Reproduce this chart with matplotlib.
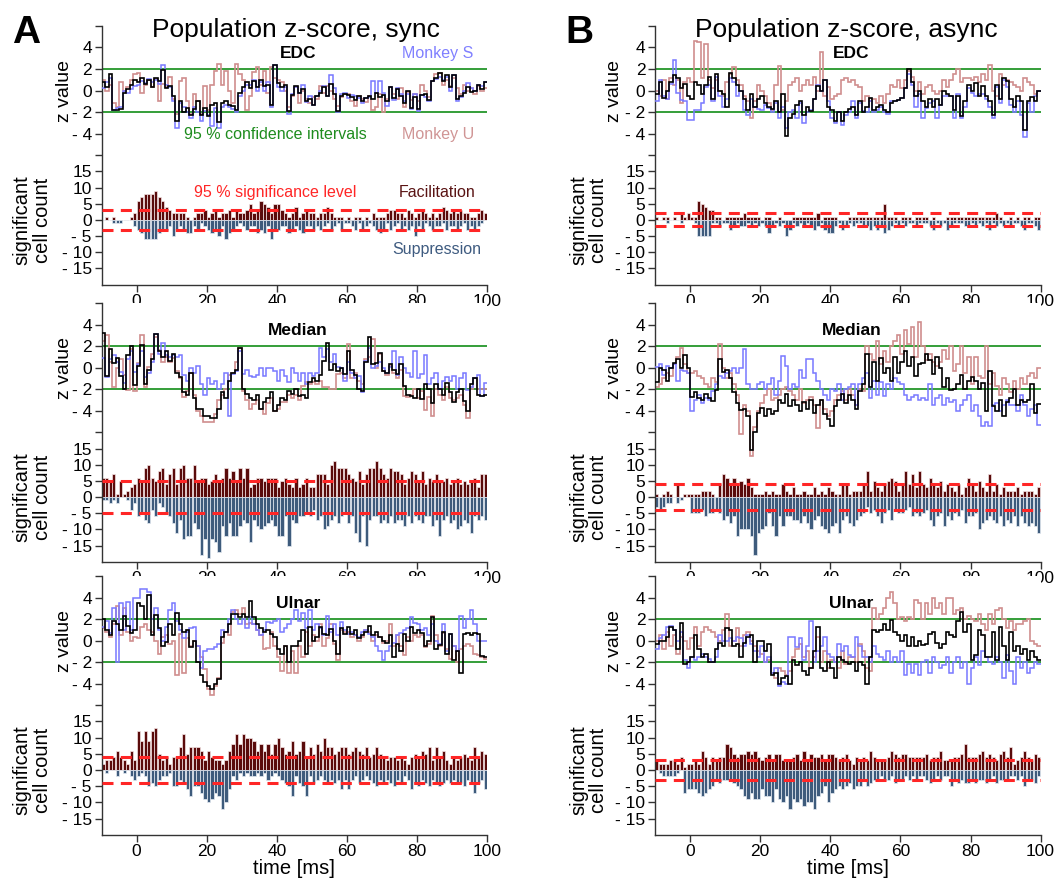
import numpy as np
import matplotlib
matplotlib.use("Agg")
import matplotlib.pyplot as plt
from matplotlib.transforms import blended_transform_factory

plt.rcParams['font.family'] = ['Liberation Sans', 'DejaVu Sans']

# 1 ms bins from -10 to 100 ms
edges = np.arange(-10, 101)

# ---------- sync, EDC ----------
sync_edc_s = [0.2, 0.8, 1.2, -1.8, -1.6, -1.5, 0.0, -0.2, 0.1, 0.4,
              0.5, 0.9, 0.7, 1.1, 0.8, 1.0, 0.6, 2.4, 0.5, 0.3,
              -1.0, -3.5, -1.2, -1.5, -2.0, -2.5, -1.5, -2.0, -2.8, -1.9,
              -2.3, -3.3, -1.6, -3.5, -1.5, -1.3, -1.5, -1.7, -2.0, -0.5,
              0.0, 0.5, 0.5, 1.0, 0.0, 0.8, 0.0, 0.8, -1.5, 2.4,
              0.3, 0.0, 0.3, -2.2, -0.3, 0.3, -0.2, 0.5, -1.1, -0.5,
              -1.3, -0.5, 0.0, 0.4, -0.5, 1.4, 0.2, -2.0, -0.3, -0.2,
              -0.7, -0.4, -0.5, -0.7, -1.2, -0.7, -0.6, 0.9, -0.2, 0.9,
              -0.2, -1.4, 0.3, -0.9, 0.2, -0.3, -1.0, -0.3, -1.7, -0.3,
              -1.9, -0.4, -0.6, -1.0, 0.9, 1.1, 1.3, 1.0, 1.3, 0.0,
              1.4, -1.0, -0.6, 0.0, 0.7, 0.2, 0.0, 0.5, 0.4, 0.8]
sync_edc_u = [1.0, 0.0, 0.5, -1.2, -1.5, 0.8, 0.0, 0.3, 1.0, 1.5,
              1.6, -0.2, 0.5, 1.0, 0.3, 1.1, -1.0, 0.6, 0.3, 1.3,
              -0.8, -2.2, 0.9, 1.2, -1.0, -2.2, -0.3, -1.0, -2.2, 0.4,
              -1.8, 0.5, 1.8, 2.5, 0.5, 1.8, 0.0, -1.2, 2.5, 1.5,
              1.0, -1.8, -0.5, 1.7, 2.2, 0.5, 1.8, -0.2, 2.2, 1.2,
              1.0, 0.8, 0.0, -1.5, -0.5, 0.3, -1.2, 0.0, -0.8, -1.2,
              -0.6, -0.8, 0.4, -0.2, 0.4, 0.0, -0.8, -1.4, -0.6, -0.3,
              -0.3, -1.0, -1.4, -0.5, -0.8, -1.1, -0.5, -1.8, -1.5, -0.3,
              -2.0, -0.8, 0.3, -0.3, -0.8, 0.2, -1.5, -0.1, -0.9, -0.3,
              -1.0, 0.5, 0.0, -0.6, 0.9, 1.5, 1.6, 0.5, 1.0, 0.4,
              1.2, 0.2, -0.3, 0.5, 0.0, 0.2, -0.3, 0.4, 0.0, 0.2]
sync_edc_all = [0.8, 0.3, 1.5, -1.8, -1.8, -1.7, -0.2, 0.1, 0.5, 1.0,
                0.8, 1.2, 0.6, 1.0, 0.3, 1.2, 0.9, 1.9, 0.2, 0.4,
                -0.5, -2.8, -1.0, -2.0, -1.6, -2.3, -1.7, -1.0, -2.3, -1.6,
                -2.4, -1.3, -1.2, -2.9, -1.2, -1.0, -1.3, -1.4, -1.8, -0.2,
                0.3, 0.8, 0.2, 0.9, 0.3, 1.0, 0.4, 0.5, -1.3, 2.4,
                0.7, 0.3, 0.5, -1.9, -0.4, 0.4, -0.2, 0.1, -1.0, -0.8,
                -1.3, -0.5, -0.2, 0.3, -0.5, 0.6, -0.3, -1.9, -0.5, -0.3,
                -0.4, -0.6, -0.9, -0.5, -1.0, -0.7, -0.5, -0.8, -0.2, -0.6,
                -0.4, -1.0, 0.3, -0.7, 0.1, -0.5, -1.2, 0.0, -1.6, -0.6,
                -1.7, -0.4, -0.3, -0.9, 0.9, 1.2, 1.6, 0.9, 1.4, 0.3,
                1.4, -0.8, -0.5, -0.2, 0.3, -0.1, 0.0, 0.5, 0.1, 0.8]
sync_edc_fac = [0, 1, 0, 1, 0, 0, 0, 0, 1, 2,
                6, 7, 8, 8, 8, 9, 7, 6, 4, 3,
                2, 2, 2, 2, 1, 0, 1, 2, 2, 3,
                1, 2, 3, 1, 2, 2, 3, 1, 3, 2,
                2, 3, 5, 2, 3, 6, 5, 4, 2, 5,
                5, 3, 2, 1, 2, 4, 1, 2, 3, 2,
                2, 1, 2, 2, 4, 2, 1, 1, 1, 0,
                1, 0, 1, 1, 0, 1, 0, 2, 1, 1,
                1, 2, 3, 3, 2, 2, 1, 3, 2, 1,
                2, 3, 2, 1, 2, 1, 2, 4, 3, 2,
                3, 2, 3, 2, 2, 1, 1, 2, 3, 2]
sync_edc_sup = [0, 0, 0, 1, 1, 1, 0, 0, 0, 2,
                3, 4, 6, 6, 6, 6, 4, 3, 3, 2,
                5, 3, 2, 3, 4, 4, 2, 3, 1, 2,
                3, 4, 3, 5, 2, 6, 4, 3, 2, 1,
                2, 3, 2, 2, 4, 3, 4, 2, 6, 3,
                3, 2, 2, 4, 3, 2, 3, 4, 2, 2,
                3, 2, 3, 2, 1, 3, 2, 1, 3, 1,
                1, 2, 3, 1, 3, 2, 1, 2, 3, 4,
                3, 1, 3, 2, 1, 3, 2, 3, 2, 5,
                2, 3, 1, 2, 3, 2, 2, 1, 3, 2,
                2, 3, 2, 1, 3, 2, 3, 2, 1, 0]

# ---------- sync, Median ----------
sync_med_s = [0.9, -0.9, 0.8, 1.2, 0.5, -0.4, -1.4, 0.8, 1.5, -0.4,
              0.3, 1.5, -0.9, -0.5, 0.5, 3.1, 1.3, 2.3, 1.2, 1.0,
              1.2, 1.0, 1.2, -0.7, -1.2, 0.0, -0.5, 0.2, -1.5, -2.5,
              -1.0, -1.5, -1.2, -2.0, -1.5, -0.5, -4.5, -0.6, -0.3, 1.5,
              -0.6, -0.2, -0.8, -0.9, -0.7, 0.0, -0.8, 0.0, 0.0, -0.3,
              -1.2, -0.2, -0.8, -1.3, 0.0, -0.5, -1.2, -0.5, -1.5, -0.5,
              -0.8, -0.5, 1.8, 1.0, 1.7, 0.5, 1.3, 0.1, 0.0, -1.2,
              0.5, -0.5, -1.0, -0.8, -2.3, 0.6, 1.8, 0.0, 0.2, 0.5,
              0.0, -0.5, 0.1, 1.5, -0.7, 1.0, 0.0, -0.5, -0.9, 1.5,
              -1.0, -0.6, 1.2, -1.5, -1.0, -0.5, -2.0, -1.2, -0.9, -1.2,
              -0.8, -2.0, -1.0, -0.5, -2.1, -1.8, -1.0, -0.7, -2.6, -1.4]
sync_med_u = [2.5, 3.0, 0.5, -1.8, 0.0, 0.8, -0.7, -2.1, 1.7, -2.2,
              0.4, 3.0, -1.8, 0.1, 1.3, 2.8, 1.6, 0.5, 1.0, 0.5,
              0.9, -0.3, -1.0, -2.7, -2.2, -0.5, -2.5, -4.0, -4.5, -5.0,
              -5.0, -5.0, -4.3, -3.0, -2.5, -2.0, -0.7, -0.5, 0.5, 1.8,
              -2.2, -3.0, -3.8, -3.4, -3.0, -3.8, -4.3, -3.3, -2.8, -4.0,
              -3.8, -3.2, -3.2, -2.5, -2.8, -2.5, -3.0, -1.7, -1.3, -1.5,
              -1.3, -1.5, -1.2, -1.8, -1.8, -2.0, -2.0, -0.6, -0.5, -1.0,
              2.2, -1.0, -0.5, -1.2, -1.5, 0.8, 1.0, 2.7, 0.0, 1.3,
              -0.3, -0.7, 0.2, -0.5, -1.0, -0.2, -2.6, -2.7, -2.5, -2.0,
              -2.8, -2.2, -3.9, -2.7, -4.5, -2.0, -2.5, -3.0, -1.8, -2.8,
              -3.0, -2.8, -2.5, -3.5, -4.7, -2.0, -1.0, -2.0, -2.0, -2.0]
sync_med_all = [3.2, -0.8, 1.7, 0.4, 0.9, -0.8, -2.0, 1.2, 2.0, -1.6,
                0.2, 2.1, -1.5, -0.2, 0.8, 3.1, 1.5, 1.0, 1.5, 0.6,
                1.3, -0.5, -0.9, -2.3, -2.5, -0.5, -2.8, -3.8, -3.8, -4.5,
                -4.5, -4.7, -4.7, -3.8, -2.3, -2.8, -1.2, -0.5, -0.2, 1.8,
                -2.0, -2.4, -2.8, -3.0, -2.5, -3.8, -3.2, -2.8, -2.3, -4.0,
                -3.5, -2.8, -3.0, -2.2, -2.4, -2.0, -2.6, -2.5, -2.8, -1.3,
                -1.0, -1.2, -0.7, 0.6, 2.3, -0.2, 0.3, -0.3, 0.0, -0.6,
                1.5, -0.2, -0.7, -2.0, -2.2, 0.5, 2.8, 0.3, 0.4, 1.4,
                -0.3, -0.5, 0.3, -0.2, -0.6, 0.3, -1.7, -2.5, -2.6, -2.8,
                -2.0, -2.9, -1.5, -2.0, -3.3, -1.5, -2.0, -2.5, -1.4, -2.3,
                -3.2, -2.3, -2.0, -3.1, -4.0, -1.5, -1.0, -2.5, -2.6, -2.5]
sync_med_fac = [6, 6, 5, 7, 1, 5, 1, 2, 3, 4,
                6, 5, 9, 10, 6, 5, 8, 9, 4, 7,
                9, 4, 9, 10, 6, 6, 10, 5, 6, 6,
                4, 5, 7, 5, 6, 9, 6, 8, 5, 9,
                6, 9, 3, 4, 6, 6, 5, 6, 6, 6,
                3, 5, 6, 4, 3, 6, 3, 4, 6, 3,
                3, 7, 7, 7, 4, 10, 11, 9, 9, 9,
                7, 6, 5, 8, 4, 7, 9, 9, 11, 9,
                7, 6, 9, 8, 8, 7, 4, 6, 8, 7,
                5, 8, 4, 6, 5, 7, 5, 5, 6, 4,
                5, 6, 4, 5, 4, 5, 6, 3, 7, 7]
sync_med_sup = [1, 1, 2, 1, 2, 0, 0, 1, 4, 2,
                6, 5, 7, 8, 4, 6, 2, 3, 5, 6,
                8, 11, 7, 13, 12, 12, 8, 10, 18, 13,
                19, 13, 14, 17, 9, 12, 8, 12, 12, 9,
                7, 8, 14, 7, 9, 10, 9, 8, 7, 9,
                12, 12, 6, 15, 7, 8, 6, 6, 5, 6,
                4, 7, 6, 10, 9, 7, 6, 8, 6, 5,
                8, 6, 11, 14, 6, 15, 7, 6, 6, 8,
                7, 8, 6, 8, 7, 7, 9, 6, 8, 6,
                7, 8, 6, 6, 9, 7, 12, 7, 6, 8,
                7, 10, 9, 7, 8, 11, 6, 7, 6, 7]

# ---------- sync, Ulnar ----------
sync_uln_s = [1.3, 1.8, 0.7, 3.0, -2.0, 3.5, 1.0, 3.6, 1.0, 4.0,
              4.0, 4.8, 4.8, 4.5, 2.0, 3.0, 1.0, 0.0, 1.3, 2.8,
              3.5, 1.8, 1.0, 0.2, 0.8, 1.2, 1.3, -0.5, -2.5, -1.0,
              -0.8, -0.8, -0.6, -0.3, 1.0, 0.8, 2.0, 2.8, 2.0, 1.5,
              2.0, 1.2, 2.2, 1.5, 1.0, 0.5, 1.0, 1.7, 1.6, 1.8,
              2.0, 0.8, 1.2, 1.5, 2.0, 2.8, 1.8, 2.6, 1.2, 2.8,
              1.0, 1.5, 1.2, 0.5, 2.3, 0.8, 1.5, 0.5, 1.7, 1.0,
              0.6, 0.8, 0.5, 0.3, 0.8, 1.0, 0.6, 0.3, -0.5, -1.0,
              -1.8, -1.0, -0.5, -0.2, 0.5, 0.7, 1.0, 1.2, 2.2, 1.6,
              1.5, 1.0, 1.2, 0.5, 1.5, 0.0, -0.3, 1.5, -1.0, 0.6,
              -0.5, -1.0, 2.3, 1.2, 2.0, 2.8, 1.5, 0.0, 0.0, 0.0]
sync_uln_u = [1.2, 0.8, 0.3, 1.5, 3.2, 0.5, 3.0, 0.8, 0.0, 0.3,
              0.2, 1.3, 1.5, 1.0, 0.8, 0.0, -1.2, 0.3, 0.5, -0.3,
              0.0, -3.2, 0.6, -3.0, 0.2, -0.5, 0.0, -0.5, -1.5, -2.6,
              -4.5, -5.0, -4.2, -3.5, -0.2, 0.8, 0.5, 2.7, 2.8, 2.5,
              3.0, 1.5, 1.6, 1.5, 1.0, 0.5, -0.8, -0.7, 0.8, -0.5,
              -1.5, -2.8, -0.5, -3.0, -1.0, -3.0, -0.5, -1.5, 0.8, -0.5,
              0.5, 0.0, 1.5, -0.5, 0.2, 1.5, -0.3, -1.8, 1.0, 0.8,
              0.8, 0.3, 0.5, 0.0, 0.3, 1.0, 0.8, 0.0, 0.5, 0.3,
              -0.2, 0.0, 1.5, -0.5, 0.5, -0.5, -1.3, 0.3, 0.0, 0.5,
              0.3, 0.5, -0.6, -0.3, 2.3, 0.5, -0.5, 0.7, -0.8, -1.7,
              -0.5, -2.0, -0.8, -0.5, -0.3, -0.5, -1.2, -1.3, -1.5, -1.7]
sync_uln_all = [2.0, 1.0, 0.5, 1.8, 1.5, 1.0, 2.3, 1.4, 0.7, 1.0,
                3.5, 3.2, 2.0, 4.2, 0.5, 2.4, 1.2, -0.5, -0.1, 1.5,
                0.5, 2.6, 1.5, 0.8, 1.0, -0.6, 0.0, -2.0, -3.2, -3.8,
                -4.2, -4.5, -4.0, -3.6, 0.3, 0.8, 1.5, 2.5, 2.5, 2.2,
                2.5, 2.2, 3.7, 2.2, 1.5, 1.2, 0.8, 1.0, 0.6, 0.3,
                -0.8, -1.2, -0.5, -2.0, -0.5, -0.5, 0.0, 1.0, -1.2, 1.3,
                0.0, 0.3, 1.3, 0.6, 0.5, 1.1, 0.0, -1.2, 1.2, 0.6,
                1.3, 0.6, 1.0, 0.2, 0.5, 0.8, 1.4, 0.5, 0.8, 0.3,
                0.0, -0.2, 0.5, -1.5, -0.3, -1.0, 0.6, 0.0, 1.3, 0.7,
                1.0, 0.7, -0.5, 0.0, 2.2, -0.8, -0.4, 0.8, -1.2, 0.6,
                -1.8, -1.0, -3.0, 0.6, 0.7, 0.5, 0.7, 0.6, -1.4, -1.5]
sync_uln_fac = [2, 3, 3, 4, 6, 4, 3, 2, 6, 3,
                12, 9, 12, 9, 12, 13, 5, 3, 4, 2,
                4, 4, 7, 11, 5, 7, 7, 7, 6, 3,
                6, 4, 3, 3, 2, 3, 6, 8, 11, 8,
                11, 10, 10, 9, 6, 8, 6, 8, 5, 8,
                10, 7, 5, 6, 9, 5, 6, 9, 4, 7,
                5, 8, 6, 10, 7, 7, 5, 6, 7, 7,
                5, 6, 7, 6, 5, 7, 4, 5, 7, 5,
                4, 3, 4, 4, 3, 4, 3, 2, 4, 5,
                4, 6, 5, 7, 3, 7, 4, 6, 3, 2,
                4, 3, 4, 5, 4, 3, 7, 4, 6, 5]
sync_uln_sup = [0, 1, 0, 0, 2, 0, 1, 0, 2, 3,
                2, 1, 2, 5, 4, 5, 3, 2, 2, 1,
                5, 5, 3, 4, 6, 8, 5, 5, 7, 9,
                10, 9, 7, 8, 12, 10, 6, 2, 3, 1,
                2, 1, 2, 2, 1, 2, 1, 3, 2, 1,
                2, 3, 4, 5, 8, 2, 4, 5, 8, 2,
                4, 3, 2, 3, 4, 3, 4, 3, 6, 3,
                6, 3, 2, 4, 3, 2, 3, 4, 5, 3,
                4, 3, 4, 5, 3, 4, 2, 3, 6, 4,
                5, 3, 4, 5, 3, 4, 5, 4, 3, 4,
                3, 4, 4, 5, 3, 4, 7, 4, 3, 6]

# ---------- async, EDC ----------
async_edc_s = [-1.0, 1.0, -0.5, -0.8, 0.6, 2.8, -0.2, -0.9, -1.0, -2.7,
               -2.7, -1.8, -1.8, -1.2, 0.3, 0.5, -1.0, 1.3, -0.5, -1.5,
               -0.8, 1.2, 0.8, -0.5, 0.0, -1.8, -2.3, -0.8, -1.5, -1.7,
               -1.8, -1.3, -1.6, -2.0, -1.2, -2.5, -1.5, -3.5, -2.0, -1.8,
               -2.5, -1.2, -3.0, -2.0, -1.8, -0.8, 0.5, 0.0, 1.0, -1.0,
               -2.5, -3.0, -2.0, -3.2, -2.3, -2.0, -1.0, -2.5, -1.2, -1.9,
               -2.0, -1.0, -2.0, -1.8, -1.5, -2.0, -2.2, -1.0, -1.0, -0.9,
               -0.7, 0.2, 1.5, 0.5, -1.5, -0.3, -2.5, -1.6, -1.2, -1.0,
               -2.5, -1.3, -0.5, -0.5, -0.5, -2.5, -0.3, -2.5, -1.5, 0.2,
               -0.2, -0.5, -0.3, -0.3, -0.8, -1.5, -2.5, 0.3, -1.2, 1.0,
               0.3, -1.3, -2.0, -1.0, -2.3, -4.3, -1.2, -2.0, -0.5, 0.0]
async_edc_u = [0.0, -0.5, 1.0, -0.8, 1.2, 0.5, 1.0, -1.2, 0.8, 1.2,
               0.8, 4.6, 4.5, 1.2, 4.3, 1.0, 0.2, 1.0, 0.0, -0.5,
               0.8, 1.5, 2.2, 1.0, 0.5, -0.5, -1.0, -2.5, -1.0, 0.5,
               0.0, -0.5, -1.2, -1.8, 0.5, 2.3, -1.8, -1.0, 0.5, 0.8,
               1.2, 0.0, 0.5, 1.0, 0.5, 1.3, 0.0, 3.6, -0.5, 0.3,
               -0.8, -0.5, -0.3, 1.0, 1.2, 0.8, 1.0, 0.5, 0.3, -1.0,
               -0.5, -1.0, -0.8, -1.2, -0.5, -1.2, -0.3, 0.5, 0.3, 1.0,
               0.2, 1.0, 1.8, 1.3, 0.0, 0.8, -0.3, 0.3, 0.5, 0.0,
               -0.3, 0.0, 1.0, 0.3, 1.0, 1.5, 2.0, 0.8, 1.2, 1.2,
               1.0, 1.3, 0.8, 1.5, 1.0, 2.4, 0.0, -0.5, 1.5, 0.5,
               1.0, 0.8, 0.5, 0.3, 0.0, 1.2, 0.8, 0.5, -0.3, 0.0]
async_edc_all = [-0.3, 0.8, -0.7, 0.0, 0.8, 1.4, 1.2, 0.2, 0.6, -0.5,
                 -0.8, 0.8, 0.5, -0.3, 0.5, 1.3, -0.8, 1.5, 0.0, -0.3,
                 -1.5, 1.6, 1.2, 0.5, 0.0, -0.8, -1.8, -0.3, -1.5, -0.8,
                 -0.5, -1.2, -1.5, -1.7, -1.0, -2.0, -0.3, -4.2, -2.5, -2.2,
                 -1.3, -1.0, -2.3, -1.5, -1.9, -0.8, 0.4, 0.0, 1.0, -1.5,
                 -1.8, -2.8, -2.0, -2.8, -2.0, -1.7, -1.5, -2.3, -1.0, -2.0,
                 -1.5, -0.7, -1.8, -1.5, -1.3, -1.8, -2.0, -1.2, -1.0, -0.9,
                 -0.7, 0.2, 2.0, 0.8, -0.5, 0.0, -1.0, -1.5, -0.8, -1.5,
                 -0.8, -1.3, 0.0, -0.3, -0.5, -1.8, -0.5, -2.4, -1.0, 0.5,
                 0.0, 0.7, -0.5, 0.4, -0.5, -1.0, -2.3, 0.5, -0.8, 1.2,
                 0.9, -0.8, -1.5, -0.5, -1.0, -3.7, -1.0, -0.6, -1.0, 0.0]
async_edc_fac = [1, 0, 1, 1, 0, 1, 0, 2, 1, 2,
                 1, 1, 6, 5, 4, 3, 3, 1, 1, 0,
                 1, 1, 1, 1, 1, 2, 1, 1, 1, 1,
                 0, 1, 1, 0, 0, 1, 0, 0, 0, 1,
                 1, 1, 1, 1, 1, 1, 2, 0, 1, 1,
                 1, 1, 0, 0, 0, 1, 1, 1, 1, 1,
                 1, 1, 1, 1, 1, 5, 1, 1, 1, 0,
                 1, 1, 1, 0, 1, 1, 1, 1, 0, 1,
                 0, 0, 0, 1, 1, 1, 1, 1, 1, 1,
                 1, 1, 1, 1, 1, 1, 1, 2, 1, 0,
                 0, 1, 0, 1, 0, 1, 1, 0, 1, 1]
async_edc_sup = [0, 0, 0, 1, 0, 0, 0, 1, 0, 0,
                 0, 1, 5, 5, 5, 5, 1, 1, 2, 1,
                 1, 3, 2, 1, 2, 2, 1, 2, 1, 2,
                 1, 2, 4, 2, 1, 2, 1, 5, 3, 1,
                 2, 1, 2, 1, 2, 3, 2, 1, 3, 4,
                 4, 2, 1, 3, 2, 1, 2, 1, 1, 2,
                 2, 3, 2, 3, 2, 4, 3, 2, 1, 2,
                 1, 2, 1, 1, 2, 1, 1, 1, 2, 3,
                 1, 2, 1, 3, 2, 1, 1, 1, 2, 2,
                 1, 2, 1, 2, 1, 3, 1, 2, 1, 2,
                 1, 2, 1, 1, 2, 3, 1, 1, 2, 3]

# ---------- async, Median ----------
async_med_s = [0.1, 0.3, -0.7, 0.2, 0.0, 0.3, -1.2, -0.2, -0.3, -0.5,
               -4.0, -3.0, -2.5, -3.3, -2.8, -3.0, -2.2, -1.5, -0.8, -1.0,
               -0.5, -0.3, 0.0, -0.5, 0.0, 1.7, -1.5, -2.0, -2.0, -1.5,
               -1.3, -2.0, -1.5, -1.0, -2.5, -1.2, 1.1, 0.2, -2.0, -1.5,
               -1.8, -0.2, -1.0, 0.8, 0.8, -0.5, -1.2, -2.0, -2.5, -3.0,
               -2.0, -2.2, -1.5, -3.0, -2.0, -1.8, -1.5, -3.5, -1.5, -1.0,
               -0.5, -2.8, -1.2, -2.5, -1.3, -2.6, -1.5, -2.0, -1.0, -1.3,
               -1.5, -2.5, -3.0, -2.7, -2.5, -3.0, -2.8, -3.0, -1.5, -3.5,
               -2.8, -2.5, -3.5, -2.8, -3.2, -3.0, -4.0, -3.5, -3.0, -2.5,
               -4.0, -3.5, -4.5, -5.4, -5.0, -5.4, -3.5, -3.3, -4.0, -3.5,
               -3.0, -3.5, -3.5, -4.0, -2.5, -3.5, -4.5, -3.8, -3.5, -5.3]
async_med_u = [-1.8, -1.5, -1.0, -0.5, -0.8, 0.3, 1.0, 1.8, 0.3, -0.5,
               -0.5, -0.3, -0.8, -1.0, -1.5, -1.8, -1.0, -1.3, 2.2, 0.0,
               -1.0, -0.5, -1.5, -2.5, -6.2, -3.5, -4.0, -8.2, -5.5, -4.0,
               -3.3, -2.5, -2.0, -3.0, -2.8, -2.5, -2.0, -1.8, -2.2, -2.5,
               -3.0, -2.0, -3.3, -3.0, -2.7, -3.5, -5.6, -3.0, -3.8, -4.5,
               -4.0, -3.0, -2.5, -2.2, -3.0, -2.0, -2.5, -3.5, -2.0, -2.2,
               2.0, 1.3, 0.7, 2.5, 0.3, 1.5, 0.5, 2.0, 2.5, 3.0,
               1.3, 3.5, 2.2, 3.8, 1.0, 4.2, 2.0, 0.7, 1.3, 0.5,
               0.2, 0.5, 1.6, 0.8, 2.0, -0.3, 0.3, 2.0, -0.5, 1.0,
               -1.5, 1.0, -0.8, -1.0, 2.0, -1.5, -0.5, -1.7, -2.5, -1.0,
               -1.5, -2.3, -1.2, -2.0, -1.0, -1.5, -0.8, -0.5, -1.0, 0.0]
async_med_all = [-1.3, 0.0, -0.2, -1.2, 0.0, 0.4, 0.8, 0.0, 1.2, 0.0,
                 -2.7, -2.3, -2.8, -3.0, -2.4, -2.8, -3.1, -2.1, 0.8, -0.4,
                 -0.2, -1.0, -2.3, -3.3, -3.9, -3.8, -4.5, -7.6, -6.0, -4.2,
                 -3.7, -4.5, -3.8, -4.3, -4.0, -3.0, -3.3, -2.4, -3.6, -3.0,
                 -3.5, -4.0, -3.2, -3.8, -3.0, -4.2, -3.5, -3.0, -4.3, -4.8,
                 -5.4, -3.6, -3.0, -2.4, -3.3, -2.5, -3.0, -3.8, -2.2, -1.5,
                 1.3, -1.8, 0.5, -1.2, 0.9, -0.5, 0.0, -1.2, 1.0, -0.5,
                 0.5, 1.5, 0.2, 1.0, -0.8, 0.3, 0.4, 1.3, 0.7, -0.6,
                 1.0, 0.0, -1.8, -1.0, -2.1, -2.0, -1.5, -0.7, -2.0, -1.2,
                 -0.9, -1.2, -2.0, -1.4, -4.0, -0.3, -3.6, -4.0, -3.0, -4.5,
                 -3.2, -2.8, -2.0, -3.5, -3.0, -3.2, -3.0, -1.5, -4.2, -3.4]
async_med_fac = [1, 0, 1, 2, 1, 0, 4, 0, 1, 1,
                 1, 1, 1, 2, 2, 2, 1, 0, 4, 7,
                 6, 4, 6, 4, 5, 4, 6, 3, 1, 1,
                 1, 2, 1, 2, 1, 1, 4, 2, 1, 3,
                 1, 1, 2, 1, 1, 3, 1, 2, 1, 3,
                 2, 1, 1, 4, 4, 1, 2, 2, 2, 4,
                 8, 2, 5, 3, 2, 4, 5, 6, 5, 2,
                 4, 8, 4, 7, 3, 8, 4, 3, 6, 4,
                 3, 5, 2, 4, 3, 2, 4, 1, 3, 6,
                 4, 2, 5, 3, 2, 7, 2, 4, 1, 3,
                 2, 2, 2, 3, 1, 2, 2, 2, 1, 3]
async_med_sup = [3, 4, 3, 2, 2, 0, 2, 1, 0, 0,
                 5, 5, 5, 4, 6, 5, 5, 4, 5, 7,
                 6, 8, 6, 12, 10, 10, 10, 12, 18, 11,
                 10, 9, 5, 9, 12, 6, 9, 6, 6, 7,
                 7, 8, 6, 8, 10, 7, 6, 9, 10, 11,
                 9, 8, 11, 7, 6, 8, 9, 7, 6, 5,
                 3, 5, 4, 6, 8, 5, 4, 7, 4, 5,
                 5, 4, 3, 6, 5, 6, 5, 4, 7, 9,
                 6, 5, 9, 6, 7, 5, 6, 4, 8, 6,
                 6, 5, 10, 8, 7, 6, 7, 8, 6, 9,
                 7, 8, 6, 9, 6, 8, 9, 8, 9, 11]

# ---------- async, Ulnar ----------
async_uln_s = [-0.8, 0.2, 0.5, 1.3, 1.4, 1.0, 0.0, 0.8, -1.8, -2.5,
               -1.5, -1.8, -1.5, -1.2, -1.5, -1.7, -2.0, -1.5, 0.5, 0.0,
               0.0, 0.2, 0.0, 0.3, 0.2, -0.5, 0.5, -0.3, -1.0, -1.5,
               -0.5, -2.0, -1.5, -3.0, -2.5, -4.2, -3.8, -4.0, 0.3, 0.3,
               -0.6, 0.2, -1.8, -0.5, 1.8, -2.0, -1.0, -0.5, 0.3, -1.2,
               -1.5, -2.0, -0.3, -1.0, -0.5, -1.3, -1.5, 0.3, -0.5, -1.5,
               -1.5, -2.0, -0.5, -1.2, -1.5, -1.8, -1.0, -2.0, -1.5, -2.0,
               -1.0, -3.2, -2.2, -3.0, -2.2, -3.2, -2.0, -1.8, -3.0, -1.5,
               -2.0, -2.5, -2.3, -1.5, -3.0, -2.0, -1.5, -2.5, -2.0, -4.0,
               -2.5, -1.5, -2.3, -1.0, -1.5, -2.0, -2.2, -1.5, -2.0, -3.5,
               -1.3, -2.8, -4.0, -1.5, -2.5, -2.0, -3.0, -2.5, -2.0, -2.2]
async_uln_u = [0.0, 0.5, -0.8, 0.8, -0.5, 0.5, -1.2, 0.3, 0.0, -0.8,
               0.2, 1.3, -0.5, 0.8, 1.3, 1.0, 0.8, 0.3, 0.0, 1.0,
               2.5, -0.5, 0.0, 1.2, -0.5, 0.5, 0.8, 0.0, -0.5, -1.0,
               -1.2, -2.0, -1.8, -3.0, -3.5, -2.5, -2.8, -3.2, -2.8, -1.5,
               -0.8, -0.3, -1.5, -1.0, -2.5, -1.5, 0.3, -2.0, -1.0, -2.5,
               -1.8, -2.0, -2.5, -1.0, -2.2, -1.5, -1.5, -2.0, -0.3, -1.0,
               -2.5, -2.8, 3.0, 2.0, 2.5, 3.0, 4.0, 4.5, 3.5, 2.0,
               2.2, 1.8, 2.2, 2.0, 3.8, 3.5, 2.0, 3.5, 2.5, 4.0,
               3.0, 3.5, 2.5, 4.0, 4.0, 2.5, 2.8, 3.0, 2.0, 2.3,
               2.0, 1.8, 2.5, 1.5, 1.0, 2.5, 1.5, 2.8, 3.0, 2.0,
               1.2, 1.8, 1.0, 1.5, 1.5, 1.8, 2.0, 0.0, -0.3, -0.5]
async_uln_all = [-0.3, 0.0, 0.0, 0.3, 1.3, 1.0, -0.8, 1.6, -2.2, -2.0,
                 -1.5, 0.5, -0.8, -1.5, -1.2, -2.0, -2.0, -0.8, -0.2, -0.5,
                 1.2, 1.0, -0.5, -0.3, -1.5, -0.2, 0.3, 0.5, -2.0, 0.0,
                 0.0, -1.0, -0.3, -3.2, -3.0, -4.0, -3.5, -3.3, -4.0, -1.8,
                 -2.3, -2.0, -2.8, -3.2, -2.5, -1.0, 1.3, -2.5, -2.8, -2.0,
                 -2.5, -3.5, -1.5, -1.8, -2.0, -2.2, -2.0, -2.8, -2.0, -2.3,
                 -4.0, -1.5, 1.0, 0.8, 1.0, 1.5, 1.0, 1.9, 0.8, 0.5,
                 0.0, 0.5, -0.5, 0.3, -0.5, 0.0, -0.4, -0.3, 0.6, 0.8,
                 -0.2, -0.7, -0.3, 0.8, 0.5, 0.3, 1.8, 2.7, 0.8, 1.5,
                 -1.8, -1.3, 1.0, 0.5, -1.5, -1.5, 0.8, -1.8, 1.3, -0.5,
                 -1.8, 0.8, -1.0, -0.5, -1.2, -0.8, -1.8, -1.0, -1.5, -1.8]
async_uln_fac = [3, 2, 2, 2, 3, 3, 2, 4, 1, 2,
                 2, 3, 2, 6, 4, 2, 4, 3, 4, 4,
                 8, 7, 5, 4, 5, 5, 6, 5, 6, 4,
                 3, 4, 5, 3, 5, 5, 3, 3, 3, 4,
                 5, 3, 6, 3, 5, 4, 4, 5, 3, 5,
                 5, 4, 3, 4, 5, 3, 2, 4, 3, 4,
                 3, 6, 4, 3, 3, 3, 4, 6, 5, 4,
                 5, 5, 4, 4, 4, 4, 4, 5, 3, 4,
                 4, 6, 3, 3, 3, 4, 4, 5, 8, 4,
                 4, 4, 5, 6, 4, 5, 4, 3, 5, 6,
                 4, 7, 2, 3, 4, 6, 4, 3, 5, 4]
async_uln_sup = [0, 1, 2, 2, 2, 2, 1, 0, 7, 6,
                 6, 6, 7, 8, 7, 6, 5, 3, 4, 3,
                 3, 3, 4, 5, 6, 8, 9, 7, 9, 9,
                 6, 8, 8, 10, 6, 9, 10, 8, 12, 9,
                 10, 9, 11, 10, 10, 12, 8, 7, 5, 10,
                 7, 6, 5, 6, 5, 4, 6, 5, 5, 3,
                 5, 4, 3, 3, 2, 3, 3, 2, 4, 3,
                 3, 2, 3, 2, 3, 2, 2, 3, 4, 3,
                 2, 3, 2, 2, 5, 3, 4, 3, 4, 4,
                 3, 4, 3, 3, 4, 3, 2, 4, 3, 3,
                 3, 2, 2, 3, 2, 5, 3, 3, 4, 2]

muscles = ['EDC', 'Median', 'Ulnar']
sig_sync = [3, 5, 4]
sig_async = [2, 4, 3]

COL_S = '#7878ff'
COL_U = '#cf8d8d'
COL_FAC = '#5a0b0b'
COL_SUP = '#3e5b7c'
COL_GREEN = '#24962a'
COL_RED = '#ff2626'


def zpos(z):
    # z-scores sit above the count histogram on the same axis
    return 40 + np.asarray(z, dtype=float) * 10.0 / 3.0


fig = plt.figure(figsize=(10.6, 8.8), dpi=100)

lefts = [0.0958, 0.618]
bottoms = [0.6766, 0.3617, 0.0515]
w, h = 0.3637, 0.294

columns = [
    [(sync_edc_s, sync_edc_u, sync_edc_all, sync_edc_fac, sync_edc_sup),
     (sync_med_s, sync_med_u, sync_med_all, sync_med_fac, sync_med_sup),
     (sync_uln_s, sync_uln_u, sync_uln_all, sync_uln_fac, sync_uln_sup)],
    [(async_edc_s, async_edc_u, async_edc_all, async_edc_fac, async_edc_sup),
     (async_med_s, async_med_u, async_med_all, async_med_fac, async_med_sup),
     (async_uln_s, async_uln_u, async_uln_all, async_uln_fac, async_uln_sup)],
]
sigs = [sig_sync, sig_async]
zlab_x = [-0.096, -0.104]
clab_x = [-0.18, -0.172]

centers = edges[:-1] + 0.5
axes = {}
for c in range(2):
    for r in range(3):
        s, u, a, fac, sup = columns[c][r]
        ax = fig.add_axes([lefts[c], bottoms[r], w, h])
        axes[(c, r)] = ax
        for zz in (2, -2):
            ax.axhline(zpos(zz), color=COL_GREEN, lw=1.3, zorder=1)
        ax.stairs(zpos(u), edges, baseline=None, color=COL_U, lw=1.2, zorder=2)
        ax.stairs(zpos(s), edges, baseline=None, color=COL_S, lw=1.1, zorder=3)
        ax.stairs(zpos(a), edges, baseline=None, color='black', lw=1.2, zorder=4)

        ax.bar(centers, fac, width=0.9, color=COL_FAC, edgecolor='#f3e4e4',
               linewidth=0.5, zorder=2)
        ax.bar(centers, -np.asarray(sup), width=0.9, color=COL_SUP,
               edgecolor='#e4eaf2', linewidth=0.5, zorder=2)
        lev = sigs[c][r]
        for y in (lev, -lev):
            ax.axhline(y, color=COL_RED, lw=2.2, ls=(0, (3.6, 2.4)), zorder=5)

        ax.set_xlim(-10, 100)
        ax.set_ylim(-20, 60)
        ax.set_xticks([0, 20, 40, 60, 80, 100])
        yt = [-15, -10, -5, 0, 5, 10, 15] + list(zpos([-6, -4, -2, 0, 2, 4, 6]))
        yl = ['- 15', '- 10', '- 5', '0', '5', '10', '15',
              '', '- 4', '- 2', '0', '2', '4', '']
        ax.set_yticks(yt)
        ax.set_yticklabels(yl)
        ax.tick_params(direction='out', length=5, width=1, color='#333333',
                       labelsize=12.5, pad=2)
        for side in ('top', 'right'):
            ax.spines[side].set_visible(False)
        for side in ('left', 'bottom'):
            ax.spines[side].set_color('#333333')
            ax.spines[side].set_linewidth(1.0)

        ax.text(46, 51.5, muscles[r], ha='center', va='center',
                fontsize=12.5, fontweight='bold')

        tr = blended_transform_factory(ax.transAxes, ax.transData)
        ax.text(zlab_x[c], 40, 'z value', rotation=90, ha='center',
                va='center', fontsize=14, transform=tr)
        ax.text(clab_x[c], 0, 'significant\ncell count', rotation=90,
                ha='center', va='center', fontsize=14.5, linespacing=1.05,
                transform=tr)
        if r == 2:
            ax.set_xlabel('time [ms]', fontsize=14.5, labelpad=0)

# legend-like annotations in the first panel
ax0 = axes[(0, 0)]
ax0.text(86, 51.5, 'Monkey S', color='#8080ff', ha='center', va='center', fontsize=11.5)
ax0.text(86, 26.5, 'Monkey U', color='#d09595', ha='center', va='center', fontsize=11.5)
ax0.text(39.5, 26.5, '95 % confidence intervals', color='#1e8c1e', ha='center',
         va='center', fontsize=11.5)
ax0.text(39.5, 8.5, '95 % significance level', color=COL_RED, ha='center',
         va='center', fontsize=11.5)
ax0.text(85.7, 8.5, 'Facilitation', color='#5a1414', ha='center', va='center',
         fontsize=11.5)
ax0.text(85.7, -9, 'Suppression', color='#3e5b80', ha='center', va='center',
         fontsize=11.5)

fig.text(0.279, 0.958, 'Population z-score, sync', ha='center', va='baseline',
         fontsize=19)
fig.text(0.798, 0.958, 'Population z-score, async', ha='center', va='baseline',
         fontsize=19)
fig.text(0.011, 0.951, 'A', ha='left', va='baseline', fontsize=28, fontweight='bold')
fig.text(0.533, 0.951, 'B', ha='left', va='baseline', fontsize=28, fontweight='bold')

fig.savefig('out.png', dpi=100)
